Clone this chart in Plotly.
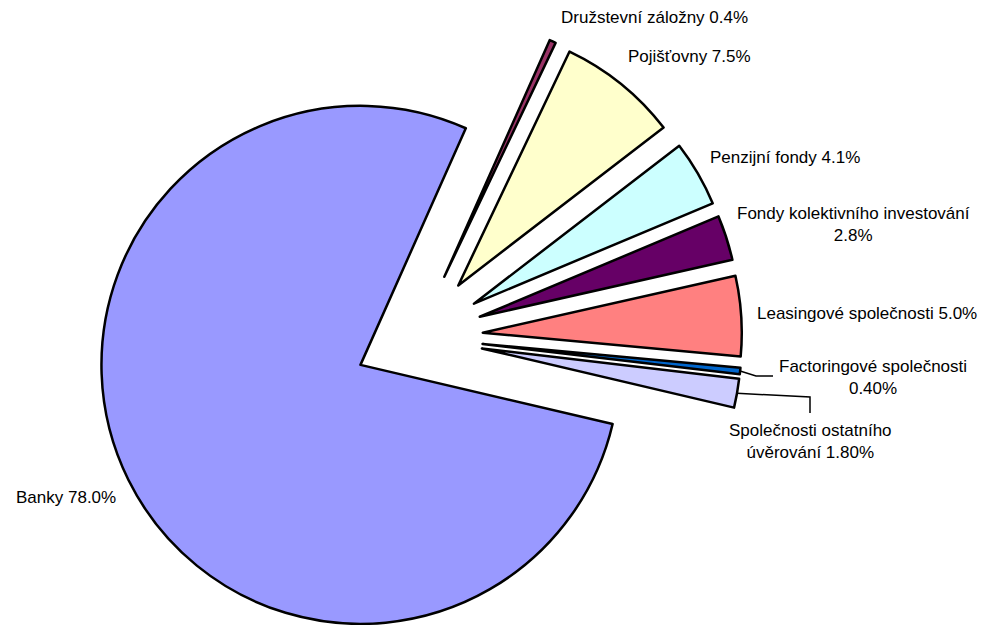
import math
import plotly.graph_objects as go

# Slice order runs clockwise, starting from "Družstevní záložny"
labels = [
    "Družstevní záložny",
    "Pojišťovny",
    "Penzijní fondy",
    "Fondy kolektivního investování",
    "Leasingové společnosti",
    "Factoringové společnosti",
    "Společnosti ostatního úvěrování",
    "Banky",
]
values = [0.4, 7.5, 4.1, 2.8, 5.0, 0.4, 1.8, 78.0]
label_texts = [
    "Družstevní záložny 0.4%",
    "Pojišťovny 7.5%",
    "Penzijní fondy 4.1%",
    "Fondy kolektivního investování<br>2.8%",
    "Leasingové společnosti 5.0%",
    "Factoringové společnosti<br>0.40%",
    "Společnosti ostatního<br>úvěrování 1.80%",
    "Banky 78.0%",
]

colors = ["#993366", "#FFFFCC", "#CCFFFF", "#660066",
          "#FF8080", "#0066CC", "#CCCCFF", "#9999FF"]
explode = [0.256, 0.256, 0.256, 0.256, 0.256, 0.256, 0.256, 0.242]

W, H = 994, 625
R = 259.0            # pie radius in px
CX, CY = 416.6, 337  # unexploded pie centre in px
ROT = 24.0           # start angle of first slice, clockwise from 12 o'clock

total = sum(values)
mids = []
acc = 0.0
for v in values:
    mids.append(ROT + (acc + v / 2) / total * 360.0)
    acc += v


def unit(deg):
    a = math.radians(deg)
    return math.sin(a), -math.cos(a)


def to_paper(px, py):
    return px / W, 1 - py / H


fig = go.Figure()
centres = []
for i in range(len(values)):
    ux, uy = unit(mids[i])
    cx = CX + explode[i] * R * ux
    cy = CY + explode[i] * R * uy
    centres.append((cx, cy))
    fill = ["rgba(0,0,0,0)"] * len(values)
    fill[i] = colors[i]
    lw = [0] * len(values)
    lw[i] = 2.5
    fig.add_trace(go.Pie(
        labels=labels, values=values, sort=False,
        direction="clockwise", rotation=ROT,
        marker=dict(colors=fill, line=dict(color="black", width=lw)),
        textinfo="none", hoverinfo="skip", showlegend=False,
        domain=dict(x=[(cx - R) / W, (cx + R) / W],
                    y=[max(0, 1 - (cy + R) / H), min(1, 1 - (cy - R) / H)]),
    ))

# Label centres (px)
label_pos = [
    (654, 17), (689, 57), (785, 157), (853, 224),
    (867, 313), (873, 377), (810, 441), (66, 497),
]
for (lx, ly), t in zip(label_pos, label_texts):
    x, y = to_paper(lx, ly)
    fig.add_annotation(x=x, y=y, xref="paper", yref="paper", text=t,
                       showarrow=False, xanchor="center", yanchor="middle",
                       align="center",
                       font=dict(family="Liberation Sans, Arial", size=17,
                                 color="black"))

# Leader lines for the two thin slices
def edge_point(i):
    ux, uy = unit(mids[i])
    cx, cy = centres[i]
    return cx + R * ux, cy + R * uy

leaders = {
    5: [(756, 376), (773, 376)],
    6: [(810, 397), (810, 413)],
}
for i, pts in leaders.items():
    path_pts = [edge_point(i)] + pts
    p = [to_paper(*q) for q in path_pts]
    d = "M " + " L ".join(f"{a},{b}" for a, b in p)
    fig.add_shape(type="path", path=d, xref="paper", yref="paper",
                  line=dict(color="black", width=1.5))

fig.update_layout(
    width=W, height=H,
    margin=dict(l=0, r=0, t=0, b=0),
    paper_bgcolor="white", plot_bgcolor="white",
    showlegend=False,
)

fig.write_html("out.html")
